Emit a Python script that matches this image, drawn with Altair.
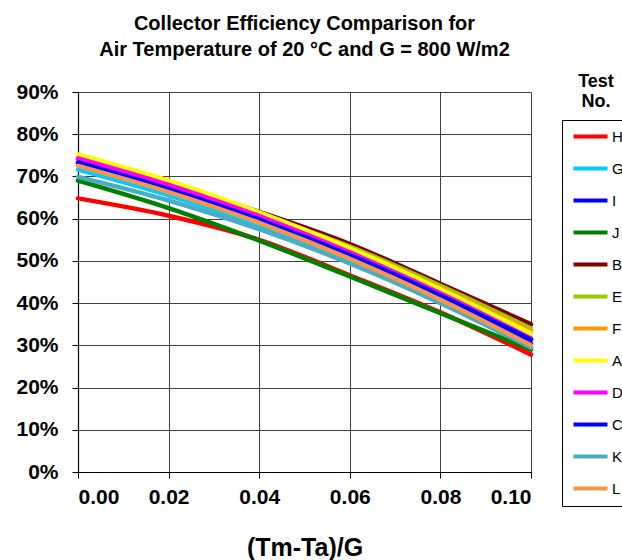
import altair as alt
import pandas as pd

FONT = "Liberation Sans"

x_vals = [0.00, 0.02, 0.04, 0.06, 0.08, 0.10]
tests = ["H", "G", "I", "J", "B", "E", "F", "A", "D", "C", "K", "L"]
colors = ["#FF0000", "#00CCFF", "#0000FF", "#008000", "#800000", "#99CC00",
          "#FF9900", "#FFFF00", "#FF00FF", "#0000FF", "#4BACC6", "#F79646"]

eff_H = [64.8, 60.7, 55.0, 46.6, 37.8, 27.8]
eff_G = [71.6, 65.5, 58.4, 50.0, 40.4, 29.7]
eff_I = [73.0, 66.7, 59.4, 50.9, 41.2, 30.4]
eff_J = [69.0, 62.5, 54.8, 46.3, 37.6, 29.0]
eff_B = [74.0, 68.2, 61.6, 54.0, 44.6, 35.0]
eff_E = [73.8, 67.8, 61.1, 53.4, 44.1, 34.0]
eff_F = [73.6, 67.5, 60.7, 52.9, 43.5, 33.3]
eff_A = [75.2, 69.0, 61.5, 53.0, 43.3, 32.8]
eff_D = [74.3, 68.0, 60.6, 52.0, 42.3, 31.6]
eff_C = [73.3, 67.0, 59.8, 51.4, 41.8, 31.3]
eff_K = [69.9, 64.3, 57.5, 49.4, 40.0, 29.5]
eff_L = [72.5, 66.3, 59.0, 50.5, 40.8, 30.0]

series = {"H": eff_H, "G": eff_G, "I": eff_I, "J": eff_J, "B": eff_B, "E": eff_E,
          "F": eff_F, "A": eff_A, "D": eff_D, "C": eff_C, "K": eff_K, "L": eff_L}

rows = []
for t in tests:
    for xv, ev in zip(x_vals, series[t]):
        rows.append({"test": t, "x": xv, "eff": ev})
df = pd.DataFrame(rows)

x_ticks = [0.0, 0.02, 0.04, 0.06, 0.08, 0.10]
y_ticks = [0, 10, 20, 30, 40, 50, 60, 70, 80, 90]

axis_style = dict(labelColor="black", titleColor="black", domainColor="black",
                  tickColor="black", gridColor="#404040", gridWidth=1, gridOpacity=1,
                  tickSize=6, domainWidth=1.2, tickWidth=1)

lines = alt.Chart(df).mark_line(strokeWidth=4.5, interpolate="monotone", strokeCap="round").encode(
    x=alt.X("x:Q", scale=alt.Scale(domain=[0, 0.1], nice=False),
            axis=alt.Axis(values=x_ticks, format=".2f", title="(Tm-Ta)/G",
                          labelFont=FONT, labelFontWeight="bold", labelFontSize=21,
                          labelPadding=8, titleFont=FONT, titleFontWeight="bold",
                          titleFontSize=25, titlePadding=28, **axis_style)),
    y=alt.Y("eff:Q", scale=alt.Scale(domain=[0, 90], nice=False),
            axis=alt.Axis(values=y_ticks, labelExpr="datum.value + '%'", title=None,
                          labelFont=FONT, labelFontWeight="bold", labelFontSize=21,
                          labelPadding=14, **axis_style)),
    color=alt.Color("test:N", scale=alt.Scale(domain=tests, range=colors),
                    legend=alt.Legend(title=None, orient="none", legendX=484, legendY=28,
                                      symbolType="M-1.0,0H5.8", symbolSize=100,
                                      symbolStrokeWidth=4, labelOffset=26,
                                      labelFont=FONT, labelFontSize=15, labelColor="black",
                                      rowPadding=15, padding=9, strokeColor="black",
                                      fillColor="white", labelLimit=100)),
)

t1 = alt.Chart(pd.DataFrame({"t": ["Test"]})).mark_text(
    font=FONT, fontSize=18, fontWeight="bold", align="center", baseline="middle", color="black"
).encode(text="t:N", x=alt.value(518), y=alt.value(-10))
t2 = alt.Chart(pd.DataFrame({"t": ["No."]})).mark_text(
    font=FONT, fontSize=18, fontWeight="bold", align="center", baseline="middle", color="black"
).encode(text="t:N", x=alt.value(518), y=alt.value(10))

chart = alt.layer(lines, t1, t2).properties(
    width=453, height=380,
    background="white",
    autosize=alt.AutoSizeParams(type="none"),
    padding={"left": 78, "top": 92, "right": 91, "bottom": 88},
    title=alt.Title(["Collector Efficiency Comparison for", "Air Temperature of 20 °C and G = 800 W/m2"],
                    font=FONT, fontSize=20, fontWeight="bold", lineHeight=26,
                    anchor="middle", frame="group", offset=13, color="black"),
).configure_view(stroke=None)

chart.save("out.html", embed_options={"renderer": "svg", "actions": False})
